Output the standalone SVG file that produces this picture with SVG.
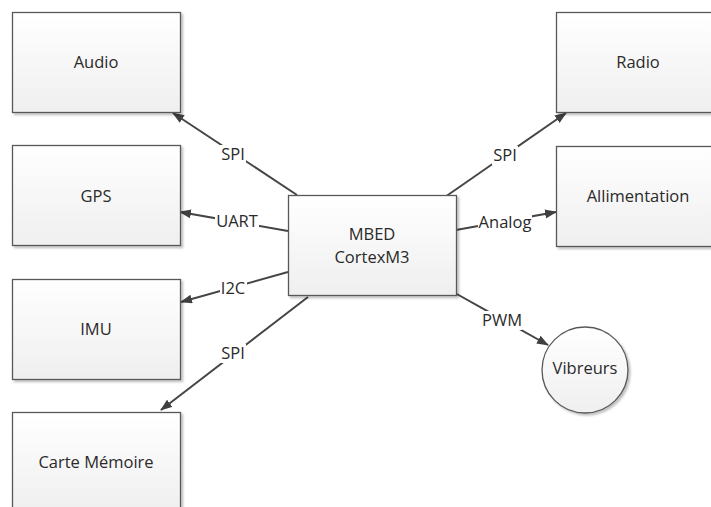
<svg xmlns="http://www.w3.org/2000/svg" width="711" height="507" viewBox="0 0 711 507">
<defs>
<linearGradient id="g" x1="0" y1="0" x2="0" y2="1">
<stop offset="0" stop-color="#ffffff"/>
<stop offset="1" stop-color="#efefef"/>
</linearGradient>
<filter id="sh" x="-10%" y="-10%" width="130%" height="130%">
<feDropShadow dx="2" dy="2" stdDeviation="1.2" flood-color="#000" flood-opacity="0.25"/>
</filter>
<marker id="ah" markerUnits="userSpaceOnUse" markerWidth="14" markerHeight="10" refX="11" refY="4.5" orient="auto">
<path d="M0,0 L12,4.5 L0,9 z" fill="#404040"/>
</marker>
</defs>
<style>
.box{fill:url(#g);stroke:#595959;stroke-width:1.3;filter:url(#sh)}
.t{font-family:"Open Sans","Liberation Sans",sans-serif;font-size:16.5px;fill:#2a2a2a;text-anchor:middle}
.c{stroke:#454545;stroke-width:2;fill:none;marker-end:url(#ah)}
.lb{fill:#fff}
</style>
<g id="connectors">
<line class="c" x1="297" y1="195" x2="173" y2="113"/>
<line class="c" x1="288" y1="231" x2="180" y2="212"/>
<line class="c" x1="288" y1="272" x2="181" y2="302"/>
<line class="c" x1="308" y1="297" x2="161" y2="410"/>
<line class="c" x1="445" y1="197" x2="566" y2="113"/>
<line class="c" x1="456" y1="230" x2="556" y2="212"/>
<line class="c" x1="455" y1="293" x2="548" y2="345"/>
<g id="labels">
<rect class="lb" x="220" y="145" width="26" height="19"/>
<text class="t" x="233" y="160">SPI</text>
<rect class="lb" x="215" y="211" width="44" height="19"/>
<text class="t" x="237" y="227">UART</text>
<rect class="lb" x="220" y="279" width="27" height="19"/>
<text class="t" x="233" y="294">I2C</text>
<rect class="lb" x="220" y="344" width="26" height="19"/>
<text class="t" x="233" y="359">SPI</text>
<rect class="lb" x="492" y="146" width="26" height="19"/>
<text class="t" x="505" y="161">SPI</text>
<rect class="lb" x="478" y="212" width="54" height="20"/>
<text class="t" x="505" y="228">Analog</text>
<rect class="lb" x="482" y="311" width="40" height="19"/>
<text class="t" x="502" y="326">PWM</text>
</g>
</g>
<g id="audio"><rect class="box" x="12.5" y="12.5" width="168" height="100"/><text class="t" x="96" y="68">Audio</text></g>
<g id="gps"><rect class="box" x="12.5" y="145.5" width="168" height="100"/><text class="t" x="96" y="202">GPS</text></g>
<g id="imu"><rect class="box" x="12.5" y="279.5" width="168" height="100"/><text class="t" x="96" y="335">IMU</text></g>
<g id="carte"><rect class="box" x="12.5" y="412.5" width="168" height="100"/><text class="t" x="96" y="468">Carte Mémoire</text></g>
<g id="radio"><rect class="box" x="556.5" y="12.5" width="168" height="100"/><text class="t" x="638" y="68">Radio</text></g>
<g id="alim"><rect class="box" x="556.5" y="146.5" width="168" height="100"/><text class="t" x="638" y="202">Allimentation</text></g>
<g id="mbed"><rect class="box" x="288.5" y="195.5" width="168" height="100"/><text class="t" x="372" y="240">MBED</text><text class="t" x="372" y="263">CortexM3</text></g>
<g id="vibreurs"><circle class="box" cx="585" cy="370" r="43"/><text class="t" x="585" y="374">Vibreurs</text></g>
</svg>
